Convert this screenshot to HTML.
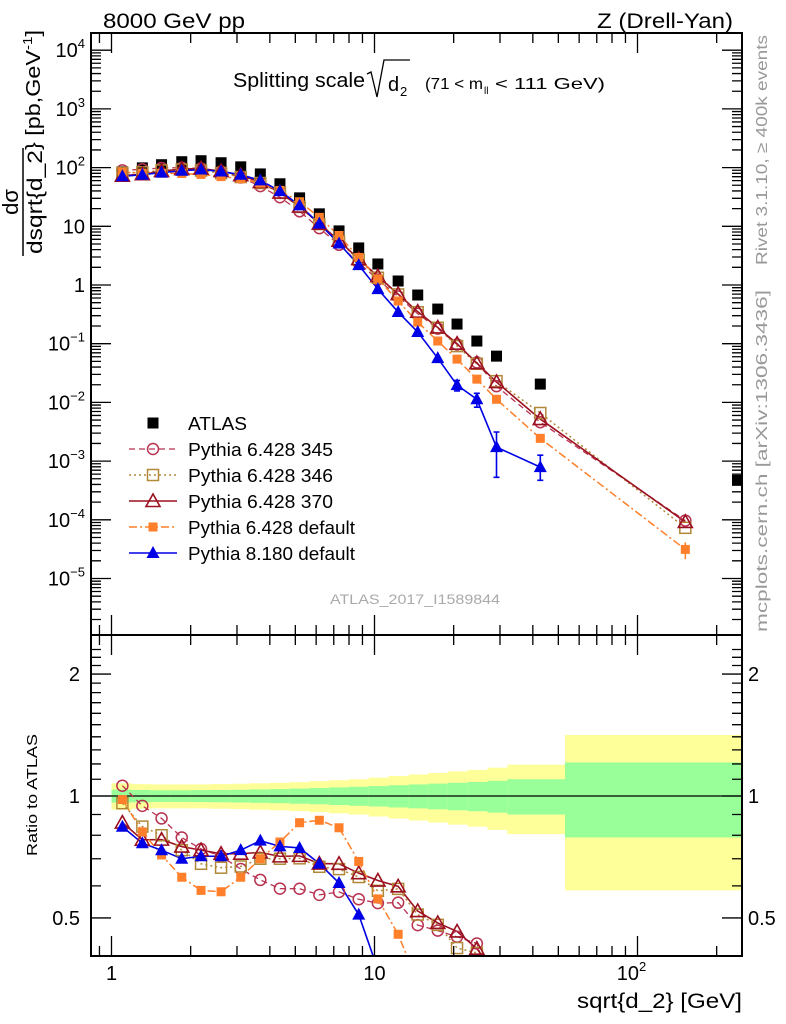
<!DOCTYPE html>
<html style="overflow:hidden;height:1024px"><head><meta charset="utf-8"><style>
html,body{margin:0;padding:0;background:#fff;overflow:hidden;width:786px;height:1024px;}
svg{display:block;font-family:"Liberation Sans",sans-serif;}
</style></head><body>
<svg id="c" width="786" height="1024" xmlns="http://www.w3.org/2000/svg">
<defs>
<clipPath id="cm"><rect x="91" y="33" width="651" height="602"/></clipPath>
<clipPath id="cr"><rect x="91" y="635" width="651" height="321"/></clipPath>
</defs>
<rect x="0" y="0" width="786" height="1024" fill="#fff"/>
<g id="bands" clip-path="url(#cr)"></g>
<g id="main" clip-path="url(#cm)"></g>
<g id="ratio" clip-path="url(#cr)"></g>
<g id="axes"></g>
<g id="atlasg"></g>
<text x="103" y="28" font-size="21" textLength="142" lengthAdjust="spacingAndGlyphs">8000 GeV pp</text>
<text x="597" y="28" font-size="21" textLength="136" lengthAdjust="spacingAndGlyphs">Z (Drell-Yan)</text>
<g>
<text x="233" y="87" font-size="20" textLength="132" lengthAdjust="spacingAndGlyphs">Splitting scale</text>
<path d="M367,74 L371,72 L377,97 L384,60 L410,60" fill="none" stroke="#000" stroke-width="1.3"/>
<text x="388" y="91" font-size="20">d</text><text x="400" y="96" font-size="13">2</text>
<text x="425" y="89" font-size="16" textLength="58" lengthAdjust="spacingAndGlyphs">(71 &lt; m</text><text x="484" y="94" font-size="10">ll</text><text x="495" y="89" font-size="16" textLength="110" lengthAdjust="spacingAndGlyphs">&lt; 111 GeV)</text>
</g>
<g transform="translate(23,202) rotate(-90)">
<text x="0" y="-5" font-size="22" text-anchor="middle">dσ</text>
<line x1="-54" y1="0" x2="54" y2="0" stroke="#000" stroke-width="1.5"/>
<text x="0" y="19" font-size="21" text-anchor="middle" textLength="104" lengthAdjust="spacingAndGlyphs">dsqrt{d_2</text>
<text x="52" y="17" font-size="20" textLength="120" lengthAdjust="spacingAndGlyphs">} [pb,GeV<tspan font-size="13" dy="-8">-1</tspan><tspan dy="8">]</tspan></text>
</g>
<text transform="translate(37,795) rotate(-90)" font-size="15" text-anchor="middle" textLength="122" lengthAdjust="spacingAndGlyphs">Ratio to ATLAS</text>
<text x="742" y="1008" font-size="21" text-anchor="end" textLength="165" lengthAdjust="spacingAndGlyphs">sqrt{d_2} [GeV]</text>
<text transform="translate(767,150) rotate(-90)" font-size="16" fill="#999" text-anchor="middle" textLength="230" lengthAdjust="spacingAndGlyphs">Rivet 3.1.10, ≥ 400k events</text>
<text transform="translate(767,461) rotate(-90)" font-size="16" fill="#999" text-anchor="middle" textLength="342" lengthAdjust="spacingAndGlyphs">mcplots.cern.ch [arXiv:1306.3436]</text>
<text x="415" y="604" font-size="14" fill="#aaa" text-anchor="middle" textLength="170" lengthAdjust="spacingAndGlyphs">ATLAS_2017_I1589844</text>
<g id="legend"></g>
</svg>
<script>
const xs = [1.10,1.31,1.55,1.85,2.19,2.61,3.10,3.68,4.37,5.19,6.17,7.33,8.71,10.3,12.3,14.6,17.4,20.6,24.5,29.1,42.7];
const xAtlasLast = 240;
const xMcLast = 152;
const atlas = [84.8,99,112,126,131,121,103,78,53,30.5,16.3,8.35,4.28,2.28,1.17,0.675,0.389,0.216,0.111,0.0614,0.0205,4.7e-4];
const p345 = [89.9,93.6,98.6,99.5,96.9,85.9,68,48.4,31.3,18,9.29,4.84,2.38,1.24,0.638,0.324,0.181,0.097,0.048,0.0189,0.0046,9.7e-5];
const p346 = [81.4,83.2,89.6,92.6,89.1,80.5,69,54.6,37.1,21.4,10.9,5.51,2.70,1.33,0.69,0.344,0.187,0.091,0.0455,0.023,0.0066,7.3e-5];
const p370 = [72.9,77.2,87.4,94.5,96.3,87.1,74.2,56.6,37.6,21.7,11.1,5.68,2.76,1.41,0.70,0.351,0.189,0.10,0.0466,0.0222,0.0052,9.2e-5];
const p6def = [83.1,80.7,80.1,79.4,76.6,70.2,64.9,54.6,40.8,26.2,14.2,6.97,2.95,1.27,0.533,0.233,0.111,0.0546,0.0249,0.0113,0.00244,3.13e-5];
const p8def = [71.2,75.7,82.3,88.2,93,85.9,75.7,60.5,39.8,22.7,11.1,5.09,2.18,0.85,0.346,0.158,0.0567,0.0197,0.0113,0.00173,7.9e-4,null];
const p8errUp = [0,0,0,0,0,0,0,0,0,0,0,0,0,0,0,0,0,0.004,0.003,0.0014,4.7e-4,0];
const p8errDn = [0,0,0,0,0,0,0,0,0,0,0,0,0,0,0,0,0,0.004,0.003,0.0012,3.2e-4,0];
const p6errLast = [1.0e-5];
const binEdges = [1.0,1.19,1.41,1.68,2.0,2.38,2.83,3.36,4.0,4.76,5.66,6.73,8.0,9.51,11.3,13.5,16,19,22.6,26.9,32,53,256];
const yellowErr = [0.075,0.07,0.068,0.068,0.068,0.07,0.072,0.075,0.078,0.082,0.088,0.094,0.10,0.11,0.12,0.13,0.14,0.15,0.16,0.175,0.195,0.415];
const greenErr = [0.037,0.035,0.033,0.033,0.034,0.035,0.036,0.038,0.04,0.043,0.046,0.05,0.054,0.058,0.063,0.068,0.073,0.078,0.083,0.09,0.10,0.21];
const mainTicks = ['10<tspan font-size="13" dy="-9">4</tspan>','10<tspan font-size="13" dy="-9">3</tspan>','10<tspan font-size="13" dy="-9">2</tspan>','10','1','10<tspan font-size="13" dy="-9">−1</tspan>','10<tspan font-size="13" dy="-9">−2</tspan>','10<tspan font-size="13" dy="-9">−3</tspan>','10<tspan font-size="13" dy="-9">−4</tspan>','10<tspan font-size="13" dy="-9">−5</tspan>'];
const mainTickVals = [1e4,1e3,1e2,10,1,0.1,0.01,1e-3,1e-4,1e-5];
const ratioTickVals = [0.5,1,2];
const ratioTickLabels = ['0.5','1','2'];

const L=91,R=742,T=33,MB=635,B=956;
const X=v=>111.5+263*Math.log10(v);
const YM=v=>285-58.7*Math.log10(v);
const YR=r=>796-405*Math.log10(r);
const NS='http://www.w3.org/2000/svg';
function mk(tag,attrs,parent){const e=document.createElementNS(NS,tag);for(const k in attrs)e.setAttribute(k,attrs[k]);parent.appendChild(e);return e;}
const gm=document.getElementById('main'),gr=document.getElementById('ratio'),gb=document.getElementById('bands'),ga=document.getElementById('axes'),gl=document.getElementById('legend'),gat=document.getElementById('atlasg');

for(let i=0;i<binEdges.length-1;i++){
  const x1=X(binEdges[i]),x2=X(binEdges[i+1]);
  const y=mk('rect',{x:x1,y:YR(1+yellowErr[i]),width:x2-x1+0.5,height:YR(1-yellowErr[i])-YR(1+yellowErr[i]),fill:'#ffff99'},gb);
  
  
  const g=mk('rect',{x:x1,y:YR(1+greenErr[i]),width:x2-x1+0.5,height:YR(1-greenErr[i])-YR(1+greenErr[i]),fill:'#99ff99'},gb);
  
  
}
const one=mk('line',{x1:L,x2:R,y1:YR(1),y2:YR(1),stroke:'#000','stroke-width':1.3},gb);



function marker(kind,x,y,color,parent,name){
  let e;
  if(kind==='circle')e=mk('circle',{cx:x,cy:y,r:5.5,fill:'none',stroke:color,'stroke-width':1.5},parent);
  else if(kind==='osq')e=mk('rect',{x:x-5.5,y:y-5.5,width:11,height:11,fill:'none',stroke:color,'stroke-width':1.5},parent);
  else if(kind==='tri')e=mk('path',{d:`M${x},${y-7} L${x+7},${y+5.5} L${x-7},${y+5.5} Z`,fill:'none',stroke:color,'stroke-width':1.6},parent);
  else if(kind==='fsq')e=mk('rect',{x:x-4.5,y:y-4.5,width:9,height:9,fill:color},parent);
  else if(kind==='ftri')e=mk('path',{d:`M${x},${y-7} L${x+6.5},${y+5} L${x-6.5},${y+5} Z`,fill:color},parent);
  else if(kind==='atlas')e=mk('rect',{x:x-5.5,y:y-5.5,width:11,height:11,fill:'#000'},parent);
  
  
}
const series=[
  {d:p345,c:'#b83250',dash:'6,4',m:'circle',n:'pythia-6428-345',label:'Pythia 6.428 345',w:1.3},
  {d:p346,c:'#b08838',dash:'2,3',m:'osq',n:'pythia-6428-346',label:'Pythia 6.428 346',w:1.5},
  {d:p370,c:'#9b1020',dash:'',m:'tri',n:'pythia-6428-370',label:'Pythia 6.428 370',w:1.6},
  {d:p6def,c:'#ff7f2a',dash:'8,3,2,3',m:'fsq',n:'pythia-6428-default',label:'Pythia 6.428 default',w:1.5},
  {d:p8def,c:'#0000e6',dash:'',m:'ftri',n:'pythia-8180-default',label:'Pythia 8.180 default',w:1.6}
];
function xOf(i){return i<xs.length?xs[i]:xMcLast;}
series.forEach(s=>{
  const pm=[],pr=[];
  s.d.forEach((v,i)=>{if(v==null)return;pm.push(X(xOf(i))+','+YM(v));if(i<xs.length)pr.push(X(xs[i])+','+YR(v/atlas[i]));});
  const lm=mk('polyline',{points:pm.join(' '),fill:'none',stroke:s.c,'stroke-width':s.w,'stroke-dasharray':s.dash},gm);
  
  
  const lr=mk('polyline',{points:pr.join(' '),fill:'none',stroke:s.c,'stroke-width':s.w,'stroke-dasharray':s.dash},gr);
  
  
});
atlas.forEach((v,i)=>{const x=i<xs.length?X(xs[i]):X(xAtlasLast);marker('atlas',x,YM(v),'#000',i<xs.length?gm:gat,'atlas-point');});
series.forEach(s=>{
  s.d.forEach((v,i)=>{if(v==null)return;
    marker(s.m,X(xOf(i)),YM(v),s.c,gm,s.n+'-point');
    if(i<xs.length)marker(s.m,X(xs[i]),YR(v/atlas[i]),s.c,gr,s.n+'-ratio-point');
  });
});
p8def.forEach((v,i)=>{if(v==null||!p8errUp[i])return;const x=X(xs[i]);
  const e=mk('path',{d:`M${x},${YM(v+p8errUp[i])} L${x},${YM(Math.max(v-p8errDn[i],1e-9))} M${x-3},${YM(v+p8errUp[i])} h6 M${x-3},${YM(Math.max(v-p8errDn[i],1e-9))} h6`,stroke:'#0000e6','stroke-width':1.6},gm);
  
  
});
{const v=p6def[p6def.length-1],x=X(xMcLast);
 const e=mk('path',{d:`M${x},${YM(v+p6errLast[0])} L${x},${YM(v-p6errLast[0])}`,stroke:'#ff7f2a','stroke-width':1.5},gm);
 
 }

[[T,MB],[MB,B]].forEach(([t,b],k)=>{
  const f=mk('rect',{x:L,y:t,width:R-L,height:b-t,fill:'none',stroke:'#000','stroke-width':2},ga);
  
  
  let d='';
  for(let e=-1;e<=2;e++)for(let m=1;m<10;m++){const v=m*Math.pow(10,e);const x=X(v);if(x<L||x>R)continue;const len=m===1?20:10;d+=`M${x},${b} v${-len} M${x},${t} v${len} `;}
  if(!k){for(let e=-6;e<=4;e++)for(let m=1;m<10;m++){const v=m*Math.pow(10,e);const y=YM(v);if(y<t||y>b)continue;const len=m===1?20:10;d+=`M${L},${y} h${len} M${R},${y} h${-len} `;}}
  else{[0.4,0.5,0.6,0.7,0.8,0.9,1,1.1,1.2,1.3,1.4,1.5,1.6,1.7,1.8,1.9,2,2.1,2.2,2.3].forEach(v=>{const y=YR(v);if(y<t||y>b)return;const len=(v===0.5||v===1||v===2)?20:10;d+=`M${L},${y} h${len} M${R},${y} h${-len} `;});}
  const tk=mk('path',{d:d,stroke:'#000','stroke-width':1.3,fill:'none'},ga);
  
  
});
mainTickVals.forEach((v,i)=>{const t=mk('text',{x:85,y:YM(v)+7,'font-size':20,'text-anchor':'end'},ga);t.innerHTML=mainTicks[i];
  
  });
ratioTickVals.forEach((v,i)=>{
  const t=mk('text',{x:80,y:YR(v)+7,'font-size':20,'text-anchor':'end'},ga);t.textContent=ratioTickLabels[i];
  
  
  const t2=mk('text',{x:748,y:YR(v)+7,'font-size':20},ga);t2.textContent=ratioTickLabels[i];
  
  
});
[['1',1],['10',10]].forEach(([s,v])=>{const t=mk('text',{x:X(v),y:980,'font-size':20,'text-anchor':'middle'},ga);t.textContent=s;
  
  });
{const t=mk('text',{x:X(100)-6,y:980,'font-size':20,'text-anchor':'middle'},ga);t.innerHTML='10<tspan font-size="13" dy="-9">2</tspan>';
 
 }

const rows=[{m:'atlas',c:'#000',label:'ATLAS',dash:null,n:'atlas'}].concat(series.map(s=>({m:s.m,c:s.c,label:s.label,dash:s.dash,n:s.n,w:s.w})));
const legendW=[59,145,145,145,167,167];
rows.forEach((r,i)=>{
  const y=423+26*i;
  const g=mk('g',{},gl);
  
  
  if(r.dash!==null)mk('line',{x1:129,x2:177,y1:y,y2:y,stroke:r.c,'stroke-width':r.w,'stroke-dasharray':r.dash},g);
  marker(r.m,153,y,r.c,g,'legend-marker');
  const t=mk('text',{x:188,y:y+7,'font-size':18,textLength:legendW[i],lengthAdjust:'spacingAndGlyphs'},g);t.textContent=r.label;
});
</script>
</body></html>
